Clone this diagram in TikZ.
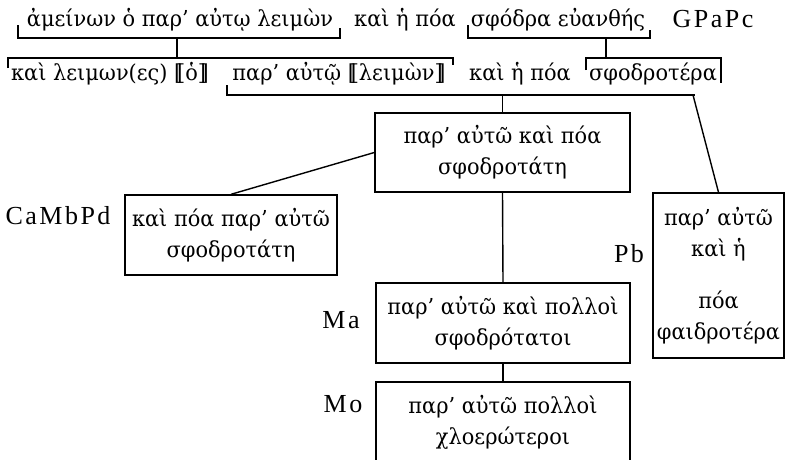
\documentclass[tikz,border=0pt]{standalone}
\usepackage{fontspec}
\setmainfont{Liberation Serif}
\newfontfamily\gr[FakeStretch=0.95]{DejaVu Serif}
\newcommand\lb{[\kern-0.24em[}
\newcommand\rb{]\kern-0.24em]}
\newcommand\K{\kern2.5pt}
\tikzset{
  ln/.style={line width=1.4pt},
  gfont/.style={font=\gr\fontsize{22}{31}\selectfont},
  gtext/.style={gfont, inner sep=0pt, anchor=base},
  box/.style={gfont, draw, line width=1.4pt, inner sep=0pt, align=center},
  lab/.style={inner sep=0pt, anchor=base, font=\fontsize{26}{28}\selectfont},
}
\begin{document}
\begin{tikzpicture}[x=1pt,y=-1pt]
\fill[white] (0,0) rectangle (786,459);
\useasboundingbox (0,0) rectangle (786,459);
% row 1
\node[gtext] (r1a) at (180,26) {ἀμείνων ὁ παρ’ αὐτῳ λειμὼν};
\node[gtext] (r1b) at (405,26) {καὶ ἡ πόα};
\node[gtext] (r1c) at (558,26) {σφόδρα εὐανθής};
\node[lab] (gpapc) at (713,27) {G\K P\K a\K P\K c};
% row 2
\node[gtext] (r2a) at (110,80) {καὶ λειμων(ες) \lb ὁ\rb};
\node[gtext] (r2b) at (339,80) {παρ’ αὐτῷ \lb λειμὼν\rb};
\node[gtext] (r2c) at (520,80) {καὶ ἡ πόα};
\node[gtext] (r2d) at (653,80) {σφοδροτέρα};
% boxes
\node[box, minimum width=255, minimum height=79] (c) at (502.5,152.5) {παρ’ αὐτῶ καὶ πόα\\σφοδροτάτη};
\node[box, minimum width=212, minimum height=80] (cmp) at (231,235) {καὶ πόα παρ’ αὐτῶ\\σφοδροτάτη};
\node[box, minimum width=131, minimum height=165] (pb) at (718.5,275.5) {παρ’ αὐτῶ\\καὶ ἡ\\[21pt]πόα\\φαιδροτέρα};
\node[box, minimum width=254, minimum height=80] (ma) at (503,323) {παρ’ αὐτῶ καὶ πολλοὶ\\σφοδρότατοι};
\node[box, minimum width=254, minimum height=80] (mo) at (503,422) {παρ’ αὐτῶ πολλοὶ\\χλοερώτεροι};
% labels
\node[lab] (lcmp) at (58,224) {C\K a\K M\K b\K P\K d};
\node[lab] (lpb) at (629,262) {P\K b};
\node[lab] (lma) at (341,328) {M\K a};
\node[lab] (lmo) at (343,412) {M\K o};
% brackets
\coordinate (s1) at (177,38);
\coordinate (s2) at (606,38);
\coordinate (uc) at (502.5,95);
\coordinate (ud) at (693,95);
\draw[ln] (18,25) |- (340,38) -- (340,28);
\draw[ln] (s1) -- (177,58);
\draw[ln] (468,25) |- (650,38) -- (650,30);
\draw[ln] (s2) -- (606,58);
\draw[ln] (8,68) |- (453,58) -- (453,65);
\draw[ln] (586,70) |- (721,58) -- (721,83);
\draw[ln] (227,85) |- (695,95);
% connectors
\draw[ln] (uc) -- (c.north);
\draw[ln] (ud) -- (pb.north);
\draw[ln] (c.west) -- (cmp.north);
\draw[ln] (c.south) -- (ma.north);
\draw[ln] (ma.south) -- (mo.north);
\end{tikzpicture}
\end{document}
